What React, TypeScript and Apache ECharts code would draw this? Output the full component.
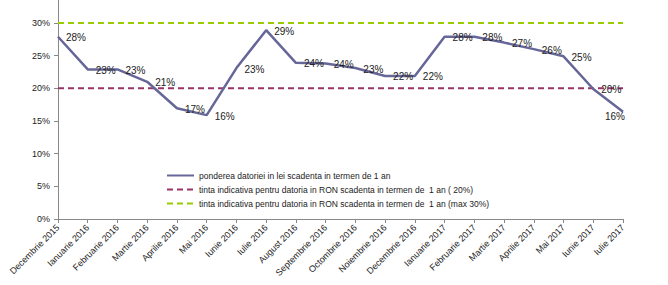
import React, { useEffect, useRef } from "react";
import * as echarts from "echarts";

const categories = [
  "Decembrie 2015", "Ianuarie 2016", "Februarie 2016", "Martie 2016", "Aprilie 2016",
  "Mai 2016", "Iunie 2016", "Iulie 2016", "August 2016", "Septembrie 2016",
  "Octombrie 2016", "Noiembrie 2016", "Decembrie 2016", "Ianuarie 2017", "Februarie 2017",
  "Martie 2017", "Aprilie 2017", "Mai 2017", "Iunie 2017", "Iulie 2017",
];

const ponderea = [
  27.9, 22.9, 22.9, 21.0, 16.95, 15.9, 23.1, 28.9, 23.9, 23.8,
  23.1, 21.9, 21.9, 27.9, 27.9, 27.0, 26.0, 24.9, 19.9, 16.4,
];

const tinta20 = 20;
const tintaMax30 = 30;

const seriesNames = [
  "ponderea datoriei in lei scadenta in termen de 1 an",
  "tinta indicativa pentru datoria in RON scadenta in termen de  1 an ( 20%)",
  "tinta indicativa pentru datoria in RON scadenta in termen de  1 an (max 30%)",
];

const FONT = 'Arial, "Liberation Sans", sans-serif';

export default function App() {
  const ref = useRef<HTMLDivElement>(null);
  useEffect(() => {
    if (!ref.current) return;
    const chart = echarts.init(ref.current, null, { renderer: "svg" });
    const lastIdx = ponderea.length - 1;
    chart.setOption({
      animation: false,
      textStyle: { fontFamily: FONT },
      grid: { left: 58, right: 45, top: 0, bottom: 66, containLabel: false },
      legend: {
        orient: "vertical",
        left: 161,
        top: 166,
        itemWidth: 27,
        itemHeight: 10,
        itemGap: 5,
        itemStyle: { opacity: 0 },
        textStyle: { fontSize: 8.5, color: "#222", fontFamily: FONT },
        data: seriesNames,
      },
      xAxis: {
        type: "category",
        data: categories,
        boundaryGap: false,
        axisLine: { lineStyle: { color: "#888", width: 1 } },
        axisTick: { show: true, length: 4, lineStyle: { color: "#888" } },
        axisLabel: {
          rotate: 45,
          fontSize: 9,
          color: "#222",
          fontFamily: FONT,
          interval: 0,
          margin: 7,
        },
        splitLine: { show: false },
      },
      yAxis: {
        type: "value",
        min: 0,
        max: 33.52,
        interval: 5,
        axisLine: { show: true, lineStyle: { color: "#888", width: 1 } },
        axisTick: { show: true, length: 4, lineStyle: { color: "#888" } },
        axisLabel: {
          fontSize: 9,
          color: "#222",
          fontFamily: FONT,
          margin: 8,
          showMaxLabel: false,
          formatter: (v: number) => (v % 5 === 0 && v <= 30 ? `${v}%` : ""),
        },
        splitLine: { show: false },
      },
      series: [
        {
          name: seriesNames[0],
          type: "line",
          symbol: "circle",
          symbolSize: 0,
          showSymbol: true,
          z: 5,
          lineStyle: { color: "#666699", width: 2.5 },
          itemStyle: { color: "#666699" },
          label: {
            show: true,
            position: "right",
            distance: 8,
            offset: [0, 1],
            fontSize: 10,
            color: "#222",
            fontFamily: FONT,
            formatter: (p: any) => `${Math.round(p.value)}%`,
          },
          data: ponderea.map((v, i) =>
            i === lastIdx ? { value: v, label: { offset: [-26, 5] } } : v
          ),
        },
        {
          name: seriesNames[1],
          type: "line",
          symbol: "none",
          z: 3,
          lineStyle: { color: "#993366", width: 2, type: [6, 4] },
          itemStyle: { color: "#993366" },
          data: categories.map(() => tinta20),
        },
        {
          name: seriesNames[2],
          type: "line",
          symbol: "none",
          z: 3,
          lineStyle: { color: "#99CC00", width: 2, type: [6, 4] },
          itemStyle: { color: "#99CC00" },
          data: categories.map(() => tintaMax30),
        },
      ],
    });
    return () => chart.dispose();
  }, []);
  return (
    <div
      ref={ref}
      style={{ position: "fixed", left: 0, top: 0, width: 668, height: 285, background: "#fff" }}
    />
  );
}
